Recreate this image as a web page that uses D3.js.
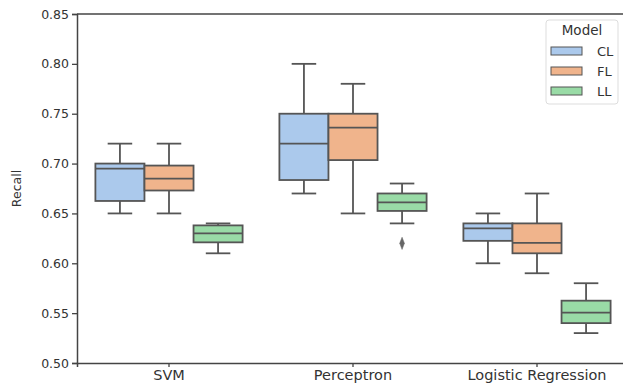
<!DOCTYPE html>
<html>
<head>
<meta charset="utf-8">
<script src="https://cdn.jsdelivr.net/npm/d3@7"></script>
<style>
  html, body { margin: 0; padding: 0; background: #fff; }
  svg { display: block; font-family: "DejaVu Sans", sans-serif; }
</style>
</head>
<body>
<div id="chart"></div>
<script>
// categories and hue levels
const classifiers = ['SVM', 'Perceptron', 'Logistic Regression'];
const models = ['CL', 'FL', 'LL'];
const yTicks = [0.50, 0.55, 0.60, 0.65, 0.70, 0.75, 0.80, 0.85];

// box stats per model, one entry per classifier: [whiskerLow, q1, median, q3, whiskerHigh]
const statsCL = [
  [0.650, 0.6625, 0.695, 0.700, 0.720],
  [0.670, 0.6835, 0.720, 0.750, 0.800],
  [0.600, 0.6225, 0.635, 0.640, 0.650]
];
const statsFL = [
  [0.650, 0.673, 0.685, 0.698, 0.720],
  [0.650, 0.7035, 0.736, 0.750, 0.780],
  [0.590, 0.610, 0.6205, 0.640, 0.670]
];
const statsLL = [
  [0.610, 0.621, 0.630, 0.638, 0.640],
  [0.640, 0.6525, 0.661, 0.670, 0.680],
  [0.530, 0.540, 0.5505, 0.5625, 0.580]
];
// outliers: [classifier, model, value]
const outliers = [['Perceptron', 'LL', 0.620]];

const colors = ['#abc9ec', '#f0b48c', '#99dba6'];

const W = 623, H = 390;
const margin = { left: 77, top: 14, right: -6, bottom: 27 };
const edge = '#555555';

const svg = d3.select('#chart').append('svg')
  .attr('width', W).attr('height', H);

const x = d3.scaleBand()
  .domain(classifiers)
  .range([margin.left, W - margin.right])
  .padding(0);

const y = d3.scaleLinear()
  .domain([0.50, 0.85])
  .range([H - margin.bottom, margin.top]);

const hue = d3.scaleBand()
  .domain(models)
  .range([-x.bandwidth() * 0.4, x.bandwidth() * 0.4])
  .padding(0);

const color = d3.scaleOrdinal().domain(models).range(colors);

// build rows for drawing
const statsByModel = { CL: statsCL, FL: statsFL, LL: statsLL };
const rows = [];
models.forEach(m => {
  classifiers.forEach((c, i) => {
    const s = statsByModel[m][i];
    rows.push({ cls: c, model: m, lo: s[0], q1: s[1], med: s[2], q3: s[3], hi: s[4] });
  });
});

// axes
const yAxis = d3.axisLeft(y).tickValues(yTicks).tickFormat(d3.format('.2f')).tickSize(5).tickPadding(3);
const xAxis = d3.axisBottom(x).tickSize(4).tickPadding(3);

const gy = svg.append('g')
  .attr('transform', `translate(${margin.left},0)`)
  .call(yAxis);
const gx = svg.append('g')
  .attr('transform', `translate(0,${H - margin.bottom})`)
  .call(xAxis);

[gy, gx].forEach(g => {
  g.selectAll('path').attr('stroke', '#444').attr('stroke-width', 1.5);
  g.selectAll('line').attr('stroke', '#444').attr('stroke-width', 1.3);
  g.selectAll('text').attr('fill', '#333')
    .style('font-family', '"DejaVu Sans", sans-serif');
});
gy.selectAll('text').style('font-size', '12.5px');
gx.selectAll('text').style('font-size', '14.5px');

// top spine
svg.append('line')
  .attr('x1', margin.left).attr('x2', W - margin.right)
  .attr('y1', margin.top).attr('y2', margin.top)
  .attr('stroke', '#444').attr('stroke-width', 1.5);

// y label
svg.append('text')
  .attr('transform', `translate(21,${(margin.top + H - margin.bottom) / 2}) rotate(-90)`)
  .attr('text-anchor', 'middle')
  .attr('fill', '#333')
  .style('font-size', '12.5px')
  .text('Recall');

// boxes
const bw = hue.bandwidth();
const boxes = svg.append('g').attr('class', 'boxes')
  .selectAll('g')
  .data(rows)
  .join('g')
  .attr('transform', d => `translate(${x(d.cls) + x.bandwidth() / 2 + hue(d.model)},0)`);

boxes.append('line') // upper whisker
  .attr('x1', bw / 2).attr('x2', bw / 2)
  .attr('y1', d => y(d.q3)).attr('y2', d => y(d.hi))
  .attr('stroke', edge).attr('stroke-width', 1.8);
boxes.append('line') // lower whisker
  .attr('x1', bw / 2).attr('x2', bw / 2)
  .attr('y1', d => y(d.q1)).attr('y2', d => y(d.lo))
  .attr('stroke', edge).attr('stroke-width', 1.8);
boxes.append('line') // caps
  .attr('x1', bw / 4).attr('x2', bw * 3 / 4)
  .attr('y1', d => y(d.hi)).attr('y2', d => y(d.hi))
  .attr('stroke', edge).attr('stroke-width', 1.8);
boxes.append('line')
  .attr('x1', bw / 4).attr('x2', bw * 3 / 4)
  .attr('y1', d => y(d.lo)).attr('y2', d => y(d.lo))
  .attr('stroke', edge).attr('stroke-width', 1.8);
boxes.append('rect')
  .attr('x', 0).attr('width', bw)
  .attr('y', d => y(d.q3))
  .attr('height', d => y(d.q1) - y(d.q3))
  .attr('fill', d => color(d.model))
  .attr('stroke', edge).attr('stroke-width', 1.8);
boxes.append('line') // median
  .attr('x1', 0).attr('x2', bw)
  .attr('y1', d => y(d.med)).attr('y2', d => y(d.med))
  .attr('stroke', edge).attr('stroke-width', 1.8);

// outliers (diamonds)
svg.append('g').selectAll('path')
  .data(outliers)
  .join('path')
  .attr('d', d3.symbol(d3.symbolDiamond, 30))
  .attr('transform', d => `translate(${x(d[0]) + x.bandwidth() / 2 + hue(d[1]) + bw / 2},${y(d[2])}) scale(0.8,1.2)`)
  .attr('fill', '#666').attr('stroke', '#666').attr('stroke-width', 0.5);

// legend
const lg = svg.append('g').attr('transform', 'translate(546,20)');
lg.append('rect')
  .attr('width', 72).attr('height', 84).attr('rx', 3)
  .attr('fill', '#fff').attr('stroke', '#ddd').attr('stroke-width', 1);
lg.append('text')
  .attr('x', 36).attr('y', 15)
  .attr('text-anchor', 'middle')
  .attr('fill', '#333')
  .style('font-size', '13.5px')
  .text('Model');
const items = lg.selectAll('g.item')
  .data(models)
  .join('g')
  .attr('class', 'item')
  .attr('transform', (d, i) => `translate(5,${27 + i * 20})`);
items.append('rect')
  .attr('width', 31).attr('height', 8)
  .attr('fill', d => color(d))
  .attr('stroke', edge).attr('stroke-width', 1);
items.append('text')
  .attr('x', 46).attr('y', 4)
  .attr('dy', '0.35em')
  .attr('fill', '#333')
  .style('font-size', '13px')
  .text(d => d);
</script>
</body>
</html>
